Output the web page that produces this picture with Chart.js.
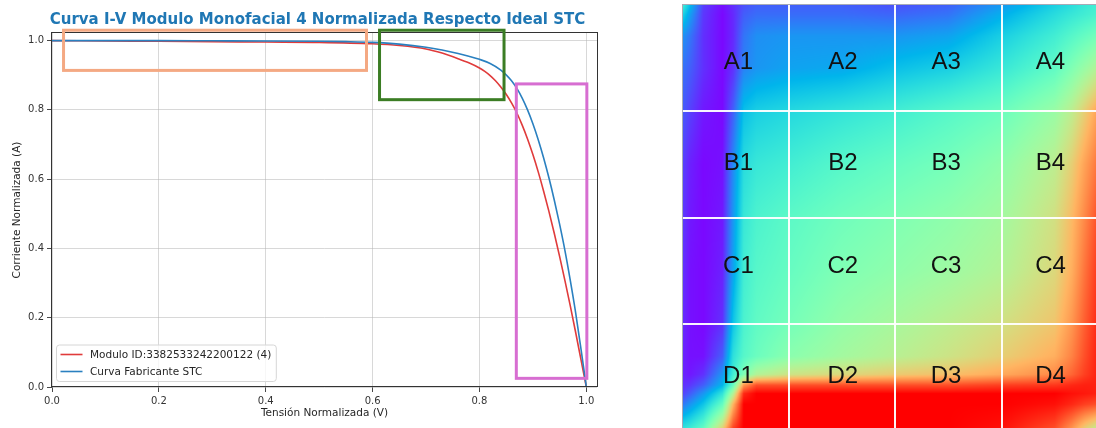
<!DOCTYPE html>
<html>
<head>
<meta charset="utf-8">
<script src="https://cdn.jsdelivr.net/npm/chart.js@4.4.1/dist/chart.umd.min.js"></script>
<style>
  html, body { margin: 0; padding: 0; background: #fff; overflow: hidden; width: 1096px; height: 428px; }
  #ivBox { position: absolute; left: 0; top: 0; width: 620px; height: 428px; }
  #zoneBox { position: absolute; left: 681px; top: 3px; width: 427px; height: 428px; }
</style>
</head>
<body>
<div id="ivBox"><canvas id="ivChart"></canvas></div>
<div id="zoneBox"><canvas id="zoneChart"></canvas></div>
<script>
// ---- I-V curves, normalised voltage (V) and current (A) ----
const voltageModule = [0, 0.1, 0.2, 0.3, 0.4, 0.5, 0.6, 0.65, 0.7, 0.73, 0.76, 0.78, 0.8, 0.81, 0.82, 0.83, 0.84, 0.85, 0.86, 0.87, 0.88, 0.89, 0.9, 0.91, 0.92, 0.93, 0.94, 0.95, 0.96, 0.97, 0.98, 0.99, 1.0];
const currentModule = [1.0, 0.999, 0.998, 0.997, 0.996, 0.995, 0.991, 0.986, 0.976, 0.964, 0.948, 0.936, 0.921, 0.911, 0.899, 0.884, 0.866, 0.845, 0.82, 0.791, 0.756, 0.716, 0.671, 0.621, 0.566, 0.507, 0.444, 0.377, 0.307, 0.234, 0.158, 0.079, 0];
const voltageSTC = [0, 0.1, 0.2, 0.3, 0.4, 0.5, 0.55, 0.6, 0.65, 0.7, 0.73, 0.76, 0.78, 0.8, 0.82, 0.84, 0.85, 0.86, 0.87, 0.88, 0.89, 0.9, 0.91, 0.92, 0.93, 0.94, 0.95, 0.96, 0.97, 0.98, 0.99, 1.0];
const currentSTC = [1.0, 1.0, 1.0, 0.9995, 0.999, 0.998, 0.997, 0.995, 0.99, 0.981, 0.973, 0.963, 0.955, 0.946, 0.934, 0.915, 0.901, 0.884, 0.862, 0.834, 0.8, 0.76, 0.714, 0.662, 0.604, 0.54, 0.47, 0.394, 0.308, 0.215, 0.11, 0];
const xTickValues = [0, 0.2, 0.4, 0.6, 0.8, 1.0];
const yTickValues = [0, 0.2, 0.4, 0.6, 0.8, 1.0];

const chartTitle = 'Curva I-V Modulo Monofacial 4 Normalizada Respecto Ideal STC';
const xTitle = 'Tensión Normalizada (V)';
const yTitle = 'Corriente Normalizada (A)';
const moduleLabel = 'Modulo ID:3382533242200122 (4)';
const stcLabel = 'Curva Fabricante STC';

// highlighted regions on the I-V plot, in data units
const regionVMin = [0.0216, 0.613, 0.869];
const regionVMax = [0.5886, 0.846, 1.001];
const regionIMin = [0.914, 0.8295, 0.025];
const regionIMax = [1.030, 1.030, 0.875];
const regionColors = ['#f4a983', '#3b7d24', '#d76ed1'];

// ---- zone map: 4x4 cells, A-D rows, 1-4 columns ----
const zoneRows = ['A', 'B', 'C', 'D'];
const zoneCols = ['1', '2', '3', '4'];
const zoneLabelX = [0.53, 1.51, 2.48, 3.46];
const zoneLabelY = [0.545, 1.495, 2.46, 3.49];
const zoneBreaks = [1, 2, 3];

// sampled level field (0..1) over the zone map, cell units
const fieldX = [0, 0.08, 0.2, 0.38, 0.48, 0.58, 0.7, 1.0, 1.5, 2.0, 2.5, 3.0, 3.5, 3.66, 3.78, 3.9];
const fieldY = [0, 0.1, 0.3, 0.6, 1.0, 1.5, 2.0, 2.5, 3.0, 3.3, 3.47, 3.57, 3.65, 3.75, 3.98];
const fieldLevel = [
  [0.40, 0.26, 0.08, 0.02, 0.06, 0.10, 0.12, 0.12, 0.12, 0.10, 0.12, 0.20, 0.30, 0.33, 0.36, 0.38],
  [0.32, 0.21, 0.07, 0.01, 0.05, 0.12, 0.14, 0.14, 0.14, 0.13, 0.15, 0.24, 0.33, 0.36, 0.38, 0.40],
  [0.20, 0.15, 0.06, 0.01, 0.05, 0.15, 0.19, 0.20, 0.20, 0.20, 0.22, 0.30, 0.38, 0.42, 0.45, 0.48],
  [0.15, 0.12, 0.06, 0.01, 0.06, 0.17, 0.20, 0.22, 0.23, 0.27, 0.30, 0.36, 0.44, 0.50, 0.55, 0.60],
  [0.12, 0.08, 0.03, 0.01, 0.12, 0.27, 0.30, 0.32, 0.35, 0.38, 0.42, 0.46, 0.55, 0.62, 0.70, 0.78],
  [0.09, 0.04, 0.01, 0.02, 0.18, 0.33, 0.36, 0.38, 0.42, 0.45, 0.48, 0.53, 0.62, 0.70, 0.78, 0.85],
  [0.08, 0.03, 0.01, 0.03, 0.20, 0.36, 0.40, 0.43, 0.47, 0.50, 0.53, 0.57, 0.66, 0.74, 0.82, 0.90],
  [0.07, 0.02, 0.01, 0.04, 0.22, 0.38, 0.42, 0.45, 0.50, 0.53, 0.56, 0.60, 0.68, 0.76, 0.85, 0.93],
  [0.06, 0.02, 0.01, 0.06, 0.28, 0.40, 0.44, 0.48, 0.54, 0.58, 0.62, 0.66, 0.72, 0.80, 0.88, 0.95],
  [0.05, 0.02, 0.02, 0.12, 0.34, 0.42, 0.46, 0.52, 0.57, 0.61, 0.65, 0.70, 0.76, 0.83, 0.90, 0.96],
  [0.05, 0.03, 0.06, 0.20, 0.38, 0.50, 0.60, 0.65, 0.68, 0.71, 0.73, 0.77, 0.82, 0.87, 0.92, 0.96],
  [0.06, 0.07, 0.12, 0.25, 0.45, 0.80, 0.90, 0.90, 0.90, 0.90, 0.90, 0.92, 0.93, 0.95, 0.96, 0.96],
  [0.08, 0.12, 0.20, 0.35, 0.60, 0.95, 1.00, 1.00, 1.00, 1.00, 1.00, 1.00, 1.00, 0.98, 0.97, 0.96],
  [0.15, 0.20, 0.28, 0.45, 0.75, 1.00, 1.00, 1.00, 1.00, 1.00, 1.00, 1.00, 0.98, 0.95, 0.92, 0.90],
  [0.35, 0.38, 0.45, 0.70, 0.92, 1.00, 1.00, 1.00, 1.00, 1.00, 1.00, 0.98, 0.90, 0.80, 0.70, 0.62]
];

const FONT = "'DejaVu Sans', sans-serif";

// ---------- I-V chart ----------
const toPoints = (xs, ys) => xs.map((v, k) => ({ x: v, y: ys[k] }));

const frameBox = {
  id: 'frameBox',
  afterDatasetsDraw(chart) {
    const { ctx, chartArea: a } = chart;
    ctx.save();
    ctx.strokeStyle = '#333';
    ctx.lineWidth = 1;
    ctx.strokeRect(Math.round(a.left) - 0.5, Math.round(a.top) - 0.5,
      Math.round(a.right - a.left) + 1, Math.round(a.bottom - a.top));
    ctx.restore();
  }
};

const plotTitle = {
  id: 'plotTitle',
  afterDraw(chart) {
    const { ctx, chartArea: a } = chart;
    ctx.save();
    ctx.font = 'bold 15px ' + FONT;
    ctx.fillStyle = '#1f77b4';
    ctx.textAlign = 'center';
    ctx.textBaseline = 'middle';
    ctx.fillText(chartTitle, (a.left + a.right) / 2 - 7, 20);
    ctx.restore();
  }
};

const regionBoxes = {
  id: 'regionBoxes',
  afterDraw(chart) {
    const { ctx, scales: { x, y } } = chart;
    ctx.save();
    ctx.lineWidth = 3;
    regionVMin.forEach((v0, k) => {
      const x0 = x.getPixelForValue(v0), x1 = x.getPixelForValue(regionVMax[k]);
      const y0 = y.getPixelForValue(regionIMax[k]), y1 = y.getPixelForValue(regionIMin[k]);
      ctx.strokeStyle = regionColors[k];
      ctx.strokeRect(x0, y0, x1 - x0, y1 - y0);
    });
    ctx.restore();
  }
};

const innerLegend = {
  id: 'innerLegend',
  afterDraw(chart) {
    const { ctx, chartArea: a } = chart;
    const items = chart.data.datasets;
    ctx.save();
    ctx.font = '10.5px ' + FONT;
    const textW = Math.max(...items.map(d => ctx.measureText(d.label).width));
    const rowH = 17, boxH = 36.5;
    const left = a.left + 4.5, top = a.bottom - 5.5 - boxH;
    const boxW = 33.5 + textW + 5;
    ctx.beginPath();
    ctx.roundRect(left, top, boxW, boxH, 3);
    ctx.fillStyle = 'rgba(255,255,255,0.8)';
    ctx.fill();
    ctx.strokeStyle = '#d6d6d6';
    ctx.lineWidth = 1;
    ctx.stroke();
    items.forEach((d, k) => {
      const cy = top + 9.5 + k * rowH;
      ctx.beginPath();
      ctx.moveTo(left + 4, cy);
      ctx.lineTo(left + 26, cy);
      ctx.strokeStyle = d.borderColor;
      ctx.lineWidth = 1.6;
      ctx.stroke();
      ctx.fillStyle = '#262626';
      ctx.textAlign = 'left';
      ctx.textBaseline = 'middle';
      ctx.fillText(d.label, left + 33.5, cy + 0.5);
    });
    ctx.restore();
  }
};

const axisCommon = (tickValues) => ({
  type: 'linear',
  afterBuildTicks: s => { s.ticks = tickValues.map(v => ({ value: v })); },
  ticks: {
    callback: v => Number(v).toFixed(1),
    font: { family: FONT, size: 10 },
    color: '#333',
    padding: 3,
    autoSkip: false,
    maxRotation: 0
  },
  grid: { color: 'rgba(176,176,176,0.55)', lineWidth: 0.9, tickLength: 5, tickColor: '#333', drawTicks: true },
  border: { display: false }
});

new Chart(document.getElementById('ivChart'), {
  type: 'line',
  data: {
    datasets: [
      { label: moduleLabel, data: toPoints(voltageModule, currentModule), borderColor: '#e03b3b',
        borderWidth: 1.6, pointRadius: 0, cubicInterpolationMode: 'monotone', order: 2 },
      { label: stcLabel, data: toPoints(voltageSTC, currentSTC), borderColor: '#2a80c0',
        borderWidth: 1.6, pointRadius: 0, cubicInterpolationMode: 'monotone', order: 1 }
    ]
  },
  options: {
    animation: false,
    responsive: true,
    maintainAspectRatio: false,
    layout: { padding: { top: 33, right: 23, left: 0, bottom: 0 } },
    plugins: { legend: { display: false }, tooltip: { enabled: false }, title: { display: false } },
    scales: {
      x: Object.assign(axisCommon(xTickValues), {
        min: 0, max: 1.02,
        afterFit: s => { s.height = 41; },
        title: { display: true, text: xTitle, font: { family: FONT, size: 10.5 }, color: '#262626', padding: { top: 0, bottom: 8 } }
      }),
      y: Object.assign(axisCommon(yTickValues), {
        min: 0, max: 1.022,
        afterFit: s => { s.width = 52; },
        title: { display: true, text: yTitle, font: { family: FONT, size: 10.5 }, color: '#262626', padding: { top: 11, bottom: 0 } }
      })
    }
  },
  plugins: [frameBox, innerLegend, regionBoxes, plotTitle]
});

// ---------- zone map ----------
function rainbow(t) {
  t = Math.max(0, Math.min(1, t));
  const r = Math.min(1, Math.abs(2 * t - 0.5));
  const g = Math.sin(Math.PI * t);
  const b = Math.cos(Math.PI / 2 * t);
  return [Math.round(r * 255), Math.round(g * 255), Math.round(b * 255)];
}

function locate(arr, v) {
  if (v <= arr[0]) return [0, 0];
  const n = arr.length - 1;
  if (v >= arr[n]) return [n - 1, 1];
  let k = 0;
  while (arr[k + 1] < v) k++;
  return [k, (v - arr[k]) / (arr[k + 1] - arr[k])];
}

const levelField = {
  id: 'levelField',
  beforeDatasetsDraw(chart) {
    const { ctx, chartArea: a, scales: { x, y } } = chart;
    const x0 = Math.round(a.left), y0 = Math.round(a.top);
    const w = Math.round(a.right) - x0, h = Math.round(a.bottom) - y0;
    const img = ctx.createImageData(w, h);
    const cols = [];
    for (let px = 0; px < w; px++) cols.push(locate(fieldX, x.getValueForPixel(x0 + px + 0.5)));
    for (let py = 0; py < h; py++) {
      const [rk, rt] = locate(fieldY, y.getValueForPixel(y0 + py + 0.5));
      const r0 = fieldLevel[rk], r1 = fieldLevel[rk + 1];
      for (let px = 0; px < w; px++) {
        const [ck, ct] = cols[px];
        const top = r0[ck] * (1 - ct) + r0[ck + 1] * ct;
        const bot = r1[ck] * (1 - ct) + r1[ck + 1] * ct;
        const c = rainbow(top * (1 - rt) + bot * rt);
        const i = (py * w + px) * 4;
        img.data[i] = c[0]; img.data[i + 1] = c[1]; img.data[i + 2] = c[2]; img.data[i + 3] = 255;
      }
    }
    ctx.putImageData(img, x0, y0);
  }
};

const zoneNames = {
  id: 'zoneNames',
  afterDraw(chart) {
    const { ctx } = chart;
    const meta = chart.getDatasetMeta(0);
    const names = chart.data.datasets[0].names;
    ctx.save();
    ctx.font = '24px "Liberation Sans", Arial, sans-serif';
    ctx.fillStyle = '#111';
    ctx.textAlign = 'center';
    ctx.textBaseline = 'middle';
    meta.data.forEach((pt, k) => ctx.fillText(names[k], pt.x, pt.y));
    ctx.restore();
  }
};

const zonePoints = [], zoneText = [];
zoneRows.forEach((r, ri) => zoneCols.forEach((c, ci) => {
  zonePoints.push({ x: zoneLabelX[ci], y: zoneLabelY[ri] });
  zoneText.push(r + c);
}));

const zoneAxis = (position, reverse) => ({
  type: 'linear', position, reverse, min: 0, max: 4,
  afterBuildTicks: s => { s.ticks = zoneBreaks.map(v => ({ value: v })); },
  ticks: { display: false },
  grid: { color: 'rgba(255,255,255,0.95)', lineWidth: 2, drawTicks: false, z: 1 },
  border: { display: true, color: '#a6aab6', width: 1, z: 1 }
});

new Chart(document.getElementById('zoneChart'), {
  type: 'scatter',
  data: { datasets: [{ data: zonePoints, names: zoneText, pointRadius: 0 }] },
  options: {
    animation: false,
    responsive: true,
    maintainAspectRatio: false,
    layout: { padding: { left: 1, top: 1, right: 0, bottom: 0 } },
    plugins: { legend: { display: false }, tooltip: { enabled: false } },
    scales: { x: zoneAxis('top', false), y: zoneAxis('left', true) }
  },
  plugins: [levelField, zoneNames]
});
</script>
</body>
</html>
